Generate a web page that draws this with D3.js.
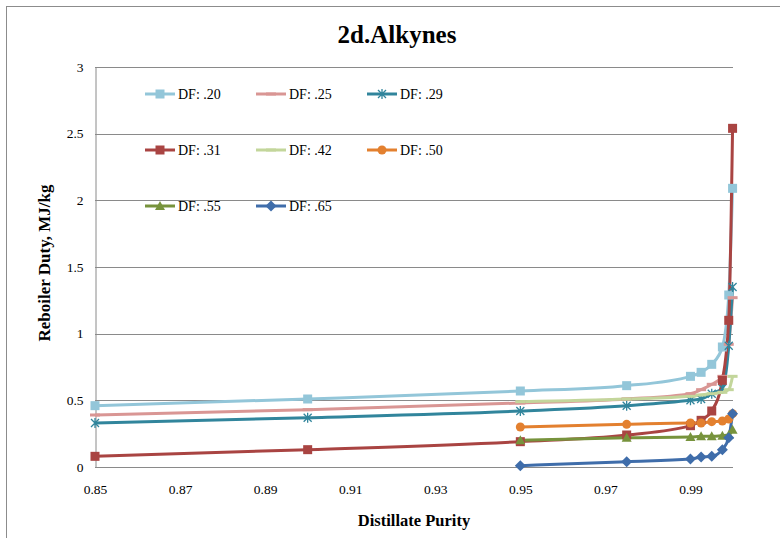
<!DOCTYPE html>
<html>
<head>
<meta charset="utf-8">
<script src="https://cdn.jsdelivr.net/npm/d3@7"></script>
<style>
  body { margin: 0; background: #fff; }
  text { font-family: "Liberation Serif", "Times New Roman", serif; }
</style>
</head>
<body>
<svg id="chart" width="780" height="538"></svg>
<script>
// purity values
var xLong = [0.85, 0.90, 0.95, 0.975, 0.99, 0.9925, 0.995, 0.9975, 0.999, 0.9999]
var xShort = [0.95, 0.975, 0.99, 0.9925, 0.995, 0.9975, 0.999, 0.9999]

var df20 = [0.46, 0.51, 0.57, 0.61, 0.68, 0.71, 0.77, 0.90, 1.29, 2.09]
var df25 = [0.39, 0.43, 0.48, 0.51, 0.55, 0.58, 0.62, 0.68, 0.92, 1.27]
var df29 = [0.33, 0.37, 0.42, 0.46, 0.50, 0.51, 0.55, 0.59, 0.91, 1.35]
var df31 = [0.08, 0.13, 0.19, 0.24, 0.31, 0.35, 0.42, 0.65, 1.10, 2.54]
var df42 = [0.49, 0.51, 0.53, 0.54, 0.55, 0.56, 0.58, 0.68]
var df50 = [0.30, 0.32, 0.33, 0.33, 0.34, 0.345, 0.36, 0.40]
var df55 = [0.20, 0.22, 0.225, 0.23, 0.23, 0.235, 0.24, 0.28]
var df65 = [0.01, 0.04, 0.06, 0.075, 0.08, 0.13, 0.22, 0.40]

var names = ["DF: .20", "DF: .25", "DF: .29", "DF: .31", "DF: .42", "DF: .50", "DF: .55", "DF: .65"]
var colors = ["#93C6D9", "#D99694", "#31859C", "#A94442", "#C3D69B", "#E3802F", "#77933C", "#3F6DAA"]
var markers = ["square", "dash", "star", "square", "dash", "circle", "triangle", "diamond"]
var yTicks = [0, 0.5, 1, 1.5, 2, 2.5, 3]
var xTicks = [0.85, 0.87, 0.89, 0.91, 0.93, 0.95, 0.97, 0.99]

var seriesX = [xLong, xLong, xLong, xLong, xShort, xShort, xShort, xShort]
var seriesY = [df20, df25, df29, df31, df42, df50, df55, df65]

var series = names.map((n, i) => ({
  name: n, color: colors[i], marker: markers[i],
  points: seriesY[i].map((v, j) => ({x: seriesX[i][j], y: v}))
}))

var dimensions = {
  width: 780,
  height: 538,
  margin: { top: 67, bottom: 71, right: 47, left: 95 }
}

var svg = d3.select("#chart")

// outer frame (top and left edges only are visible)
svg.append("line").attr("x1", 6).attr("x2", 780).attr("y1", 6.5).attr("y2", 6.5)
   .attr("stroke", "#8c8c8c")
svg.append("line").attr("x1", 6.5).attr("x2", 6.5).attr("y1", 6).attr("y2", 538)
   .attr("stroke", "#8c8c8c")

var plotRight = dimensions.width - dimensions.margin.right

var xScale = d3.scaleLinear()
               .domain([0.85, 1.0])
               .range([dimensions.margin.left, plotRight])
var yScale = d3.scaleLinear()
               .domain([0, 3])
               .range([dimensions.height - dimensions.margin.bottom, dimensions.margin.top])

// gridlines
svg.append("g").selectAll("line")
   .data(yTicks.filter(d => d > 0))
   .enter().append("line")
   .attr("x1", dimensions.margin.left).attr("x2", plotRight)
   .attr("y1", d => Math.round(yScale(d)) + 0.5).attr("y2", d => Math.round(yScale(d)) + 0.5)
   .attr("stroke", "#8a8a8a")

// axes
var yAxis = svg.append("g")
   .attr("transform", `translate(${dimensions.margin.left + 0.5},0)`)
   .call(d3.axisLeft(yScale).tickValues(yTicks).tickSize(0).tickPadding(12).tickFormat(d3.format("")))
var xAxis = svg.append("g")
   .attr("transform", `translate(0,${Math.round(yScale(0)) + 0.5})`)
   .call(d3.axisBottom(xScale).tickValues(xTicks).tickSize(0).tickPadding(17).tickFormat(d3.format(".2f")))
xAxis.select(".domain").attr("d", `M${dimensions.margin.left},0H${plotRight}`)

svg.selectAll(".domain").attr("stroke", "#8a8a8a")
svg.selectAll(".tick text").attr("font-size", 13.5).attr("fill", "#000")
  .style("font-family", "Liberation Serif, serif")

// lines
var line = d3.line().x(d => xScale(d.x)).y(d => yScale(d.y)).curve(d3.curveMonotoneX)

var plot = svg.append("g")
series.forEach(s => {
  plot.append("path").datum(s.points)
      .attr("d", line)
      .attr("fill", "none")
      .attr("stroke", s.color)
      .attr("stroke-width", 3)
})

function drawMarker(g, type, color, x, y) {
  if (type == "square") {
    g.append("rect").attr("x", x - 4.5).attr("y", y - 4.5).attr("width", 9).attr("height", 9).attr("fill", color)
  } else if (type == "dash") {
    g.append("rect").attr("x", x - 5).attr("y", y - 1.5).attr("width", 10).attr("height", 3).attr("fill", color)
  } else if (type == "star") {
    g.append("path").attr("d", `M${x-4},${y-4}L${x+4},${y+4}M${x-4},${y+4}L${x+4},${y-4}M${x},${y-5}V${y+5}`)
     .attr("stroke", color).attr("stroke-width", 1.3).attr("fill", "none")
  } else if (type == "circle") {
    g.append("circle").attr("cx", x).attr("cy", y).attr("r", 4.5).attr("fill", color)
  } else if (type == "triangle") {
    g.append("path").attr("d", `M${x},${y-5}L${x+5},${y+4}L${x-5},${y+4}Z`).attr("fill", color)
  } else if (type == "diamond") {
    g.append("path").attr("d", `M${x},${y-5.5}L${x+5.5},${y}L${x},${y+5.5}L${x-5.5},${y}Z`).attr("fill", color)
  }
}

series.forEach(s => {
  var g = plot.append("g")
  s.points.forEach(p => drawMarker(g, s.marker, s.color, xScale(p.x), yScale(p.y)))
})

// legend
var legendCols = [145, 256, 367]
var legendRows = [94, 150, 206]
var legend = svg.append("g")
series.forEach((s, i) => {
  var lx = legendCols[i % 3], ly = legendRows[Math.floor(i / 3)]
  legend.append("line").attr("x1", lx).attr("x2", lx + 30).attr("y1", ly).attr("y2", ly)
        .attr("stroke", s.color).attr("stroke-width", 3)
  drawMarker(legend, s.marker, s.color, lx + 15, ly)
  legend.append("text").attr("x", lx + 33).attr("y", ly + 5)
        .attr("font-size", 14).text(s.name)
})

// titles
svg.append("text").attr("x", 397).attr("y", 43).attr("text-anchor", "middle")
   .attr("font-size", 25).attr("font-weight", "bold").text("2d.Alkynes")
svg.append("text").attr("x", 414).attr("y", 526).attr("text-anchor", "middle")
   .attr("font-size", 16.5).attr("font-weight", "bold").text("Distillate Purity")
svg.append("text").attr("transform", "translate(50,263) rotate(-90)").attr("text-anchor", "middle")
   .attr("font-size", 17).attr("font-weight", "bold").text("Reboiler Duty, MJ/kg")
</script>
</body>
</html>
